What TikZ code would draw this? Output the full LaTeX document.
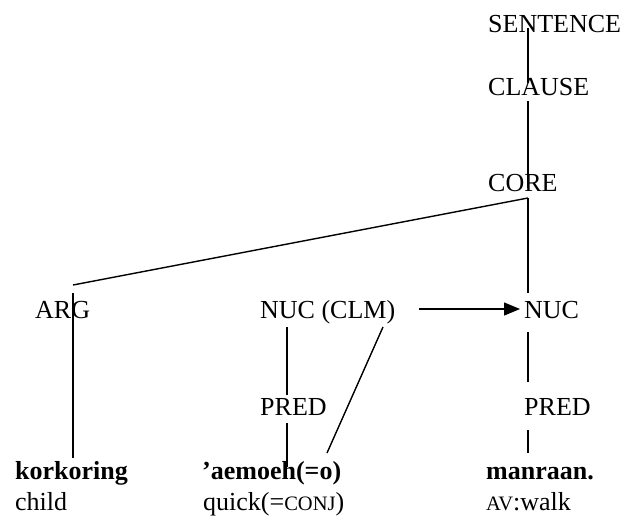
\documentclass[tikz,border=0pt]{standalone}
\usepackage{fontspec}
\setmainfont{Liberation Serif}
\usetikzlibrary{calc,arrows.meta}
\newcommand{\smallcapstext}[1]{{\fontsize{20.5}{20.5}\selectfont #1}}
\begin{document}
\begin{tikzpicture}[x=1pt,y=-1pt,
  lbl/.style={anchor=base west,inner sep=0pt,font=\fontsize{26}{26}\selectfont},
  word/.style={lbl,font=\fontsize{26}{26}\selectfont\bfseries},
  branch/.style={line width=1.4pt},
  arr/.style={line width=1.4pt,-{Triangle[length=16pt,width=13pt]}}]
\useasboundingbox (0,0) rectangle (624,517);

% constituent labels
\node[lbl] (sentence) at (488,32) {SENTENCE};
\node[lbl] (clause)   at (488,95) {CLAUSE};
\node[lbl] (core)     at (488,191) {CORE};
\node[lbl] (arg)      at (35,318) {ARG};
\node[lbl] (nucclm)   at (260,318) {NUC (CLM)};
\node[lbl] (nuc)      at (524,318) {NUC};
\node[lbl] (predA)    at (260,415) {PRED};
\node[lbl] (predB)    at (524,415) {PRED};

% words and glosses
\node[word] (wA) at (15,479) {korkoring};
\node[lbl]  (gA) at (15,510) {child};
\node[word] (wB) at (202,479) {’aemoeh(=o)};
\node[lbl]  (gB) at (203,510) {quick(=\smallcapstext{CONJ})};
\node[word] (wC) at (486,479) {manraan.};
\node[lbl]  (gC) at (486,510) {\smallcapstext{AV}:walk};

% branch end points
\coordinate (sBot)    at ($(sentence.base west)+(40,-4)$);
\coordinate (cTop)    at ($(clause.base west)+(40,-12)$);
\coordinate (cBot)    at ($(clause.base west)+(40,6)$);
\coordinate (coTop)   at ($(core.base west)+(40,-3)$);
\coordinate (coBot)   at ($(core.base west)+(40,7)$);
\coordinate (argTop)  at ($(arg.base west)+(38,-33)$);
\coordinate (argLn)   at ($(arg.base west)+(38,-25)$);
\coordinate (wATop)   at ($(wA.base west)+(58,-21)$);
\coordinate (nucTop)  at ($(nuc.base west)+(4,-25)$);
\coordinate (clmL)    at ($(nucclm.base west)+(27,9)$);
\coordinate (prATop)  at ($(predA.base west)+(27,-20)$);
\coordinate (prABot)  at ($(predA.base west)+(27,8)$);
\coordinate (wBTop)   at ($(wB.base west)+(85,-12)$);
\coordinate (clmR)    at ($(nucclm.base west)+(123,9)$);
\coordinate (wBSlash) at ($(wB.base west)+(125,-26)$);
\coordinate (nucBot)  at ($(nuc.base west)+(4,14)$);
\coordinate (prBTop)  at ($(predB.base west)+(4,-33)$);
\coordinate (prBBot)  at ($(predB.base west)+(4,15)$);
\coordinate (wCTop)   at ($(wC.base west)+(42,-26)$);
\coordinate (arrFrom) at ($(nucclm.base east)+(24,-9)$);
\coordinate (arrTo)   at ($(nuc.base west)+(-4,-9)$);

% tree branches
\draw[branch] (sBot) -- (cTop);
\draw[branch] (cBot) -- (coTop);
\draw[branch] (coBot) -- (argTop);
\draw[branch] (argLn) -- (wATop);
\draw[branch] (coBot) -- (nucTop);
\draw[branch] (clmL) -- (prATop);
\draw[branch] (prABot) -- (wBTop);
\draw[branch] (clmR) -- (wBSlash);
\draw[branch] (nucBot) -- (prBTop);
\draw[branch] (prBBot) -- (wCTop);

% linkage arrow
\draw[arr] (arrFrom) -- (arrTo);
\end{tikzpicture}
\end{document}
